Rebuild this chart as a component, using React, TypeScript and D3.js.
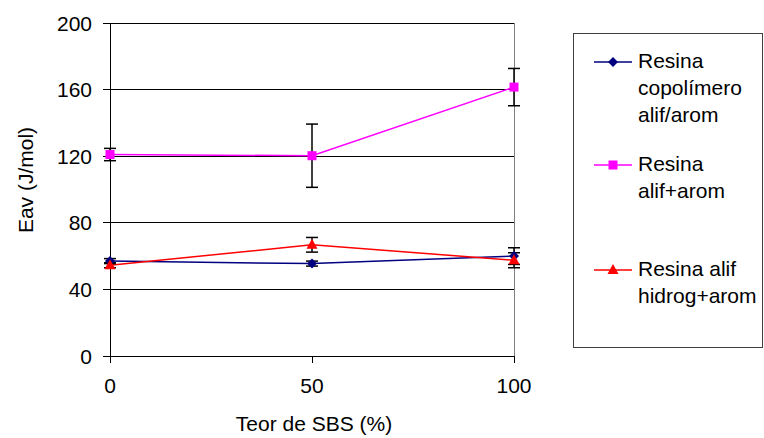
import React from "react";
import * as d3 from "d3";

const xValues = [0, 50, 100];
const xTicks = [0, 50, 100];
const yTicks = [0, 40, 80, 120, 160, 200];

const copolimero = [57, 55.5, 60];
const copolimeroErr = [1.5, 1.5, 5];
const alifArom = [121, 120.3, 161.5];
const alifAromErr = [3.7, 19, 11.2];
const alifHidrog = [54.5, 66.8, 57.5];
const alifHidrogErr = [1.5, 4.4, 4.5];

const seriesNames = [
  ["Resina", "copolímero", "alif/arom"],
  ["Resina", "alif+arom"],
  ["Resina alif", "hidrog+arom"],
];

const W = 764;
const H = 438;
const FONT = "'Liberation Sans', Arial, sans-serif";
const FS = 21;

export default function App() {
  const x = d3.scaleLinear().domain([0, 100]).range([110, 514]);
  const y = d3.scaleLinear().domain([0, 200]).range([356, 23]);

  const series = [
    { vals: copolimero, err: copolimeroErr, color: "#000080", marker: "diamond" },
    { vals: alifArom, err: alifAromErr, color: "#FF00FF", marker: "square" },
    { vals: alifHidrog, err: alifHidrogErr, color: "#FF0000", marker: "triangle" },
  ];

  const line = d3
    .line<number>()
    .x((_, i) => x(xValues[i]))
    .y((d) => y(d));

  const marker = (type: string, cx: number, cy: number, color: string, key: string) => {
    if (type === "diamond") {
      const s = 5;
      return (
        <path key={key} d={`M${cx},${cy - s}L${cx + s},${cy}L${cx},${cy + s}L${cx - s},${cy}Z`} fill={color} />
      );
    }
    if (type === "square") {
      return <rect key={key} x={cx - 4.5} y={cy - 4.5} width={9} height={9} fill={color} />;
    }
    return (
      <path key={key} d={`M${cx},${cy - 6}L${cx + 5.5},${cy + 4}L${cx - 5.5},${cy + 4}Z`} fill={color} />
    );
  };

  const legendY = [62, 165, 270];

  return (
    <svg
      width={W}
      height={H}
      style={{ position: "absolute", left: 0, top: 0, background: "#fff" }}
      fontFamily={FONT}
    >
      <rect x={0} y={0} width={W} height={H} fill="#fff" />
      {/* gridlines */}
      {yTicks.filter((t) => t > 0).map((t) => (
        <line key={"g" + t} x1={x(0)} x2={x(100)} y1={y(t)} y2={y(t)} stroke="#000" strokeWidth={1} shapeRendering="crispEdges" />
      ))}
      {/* right border */}
      <line x1={x(100)} x2={x(100)} y1={y(200)} y2={y(0)} stroke="#808080" strokeWidth={1} shapeRendering="crispEdges" />
      {/* y axis */}
      <line x1={x(0)} x2={x(0)} y1={y(200)} y2={y(0)} stroke="#000" strokeWidth={1} shapeRendering="crispEdges" />
      {yTicks.map((t) => (
        <g key={"yt" + t}>
          <line x1={x(0) - 7} x2={x(0)} y1={y(t)} y2={y(t)} stroke="#000" shapeRendering="crispEdges" />
          <text x={92} y={y(t) + 7.5} textAnchor="end" fontSize={FS} fill="#000">
            {t}
          </text>
        </g>
      ))}
      {/* x axis */}
      <line x1={x(0)} x2={x(100)} y1={y(0)} y2={y(0)} stroke="#000" shapeRendering="crispEdges" />
      {xTicks.map((t) => (
        <g key={"xt" + t}>
          <line x1={x(t)} x2={x(t)} y1={y(0)} y2={y(0) + 7} stroke="#000" shapeRendering="crispEdges" />
          <text x={x(t)} y={393} textAnchor="middle" fontSize={FS} fill="#000">
            {t}
          </text>
        </g>
      ))}
      <text x={314} y={431} textAnchor="middle" fontSize={FS} fill="#000">
        Teor de SBS (%)
      </text>
      <text transform={`translate(33,180) rotate(-90)`} textAnchor="middle" fontSize={FS} fill="#000">
        Eav (J/mol)
      </text>
      {/* series lines */}
      {series.map((s, si) => (
        <path key={"l" + si} d={line(s.vals) || ""} fill="none" stroke={s.color} strokeWidth={1.5} />
      ))}
      {/* error bars */}
      {series.map((s, si) =>
        s.vals.map((v, i) => {
          const cx = x(xValues[i]);
          const y1 = y(v + s.err[i]);
          const y2 = y(v - s.err[i]);
          return (
            <g key={`e${si}-${i}`} stroke="#000" strokeWidth={1.5}>
              <line x1={cx} x2={cx} y1={y1} y2={y2} />
              <line x1={cx - 6} x2={cx + 6} y1={y1} y2={y1} />
              <line x1={cx - 6} x2={cx + 6} y1={y2} y2={y2} />
            </g>
          );
        })
      )}
      {/* markers */}
      {series.map((s, si) => s.vals.map((v, i) => marker(s.marker, x(xValues[i]), y(v), s.color, `m${si}-${i}`)))}
      {/* legend */}
      <rect x={573.5} y={33.5} width={189} height={314} fill="#fff" stroke="#404040" strokeWidth={1} />
      {series.map((s, si) => (
        <g key={"lg" + si}>
          <line x1={594} x2={632} y1={legendY[si]} y2={legendY[si]} stroke={s.color} strokeWidth={1.5} />
          {marker(s.marker, 613, legendY[si], s.color, "lm" + si)}
          {seriesNames[si].map((ln, li) => (
            <text key={li} x={638} y={legendY[si] + 6 + li * 27} fontSize={FS} fill="#000">
              {ln}
            </text>
          ))}
        </g>
      ))}
    </svg>
  );
}
